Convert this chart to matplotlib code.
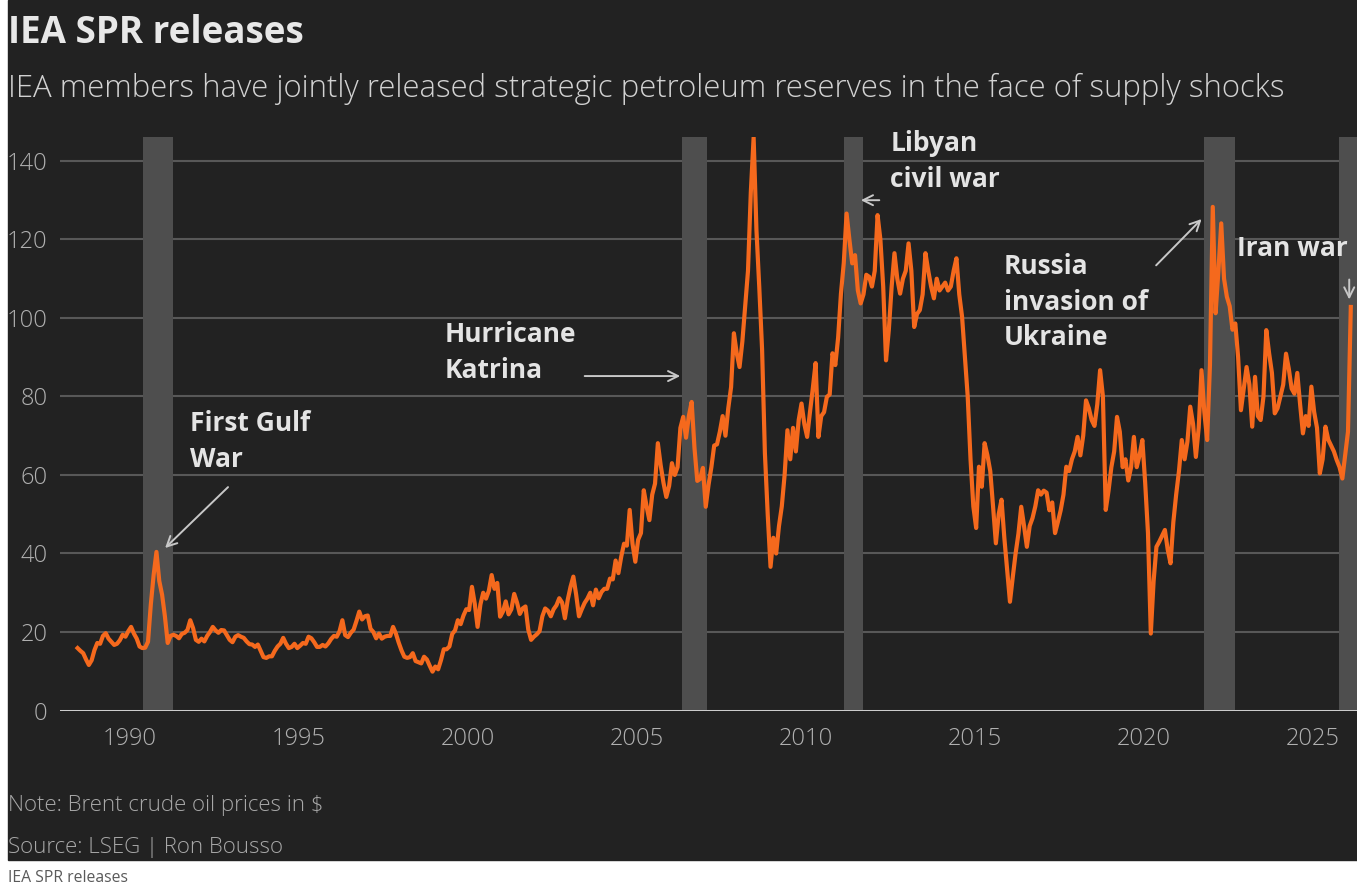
import numpy as np
import matplotlib
matplotlib.use("Agg")
import matplotlib.pyplot as plt
from matplotlib.patches import Rectangle

plt.rcParams['font.family'] = ['Open Sans', 'DejaVu Sans']

# Brent crude in $, read off the chart roughly once a month, starting mid-1988
start_year = 1988.45
brent = [
    15.9, 15.2, 14.6, 13.0, 11.6, 12.8, 15.4,                            # 1988 (Jun-Dec)
    17.2, 17.0, 19.0, 19.7, 18.3, 17.5, 16.7, 17.0, 17.9, 19.3, 18.8, 20.2,  # 1989
    21.3, 19.6, 18.3, 16.3, 15.9, 16.0, 17.5, 27.0, 34.5, 40.4, 33.0, 29.5,  # 1990
    24.0, 17.2, 19.0, 19.3, 19.0, 18.4, 19.5, 19.8, 20.5, 23.0, 21.0, 18.0,  # 1991
    17.5, 18.3, 17.6, 19.0, 20.0, 21.3, 20.4, 19.8, 20.5, 20.4, 19.2, 18.0,  # 1992
    17.4, 18.8, 19.2, 18.8, 18.5, 17.6, 16.9, 16.8, 16.2, 16.8, 15.2, 13.6,  # 1993
    13.4, 13.8, 13.8, 15.2, 16.3, 17.0, 18.5, 17.0, 15.9, 16.2, 17.0, 15.9,  # 1994
    16.5, 17.2, 17.0, 18.8, 18.4, 17.4, 16.2, 16.2, 16.7, 16.3, 17.1, 18.2,  # 1995
    19.0, 18.8, 20.2, 23.0, 19.2, 18.7, 19.8, 20.6, 22.8, 25.2, 23.2, 24.0,  # 1996
    24.2, 20.8, 20.0, 18.4, 19.6, 18.3, 18.8, 19.0, 19.0, 21.3, 19.6, 17.3,  # 1997
    15.3, 13.7, 13.4, 13.6, 14.6, 12.6, 12.3, 12.0, 13.7, 13.0, 11.4, 9.9,   # 1998
    11.2, 10.5, 12.8, 15.6, 15.6, 16.3, 19.5, 20.4, 23.0, 22.0, 24.2, 25.8,  # 1999
    25.6, 31.5, 27.2, 21.3, 27.0, 30.0, 28.5, 30.5, 34.5, 31.0, 32.5, 23.9,  # 2000
    25.2, 27.8, 24.5, 25.8, 29.7, 27.5, 24.6, 26.0, 26.5, 20.6, 18.0, 18.8,  # 2001
    19.4, 20.2, 24.0, 26.0, 25.4, 24.0, 25.8, 26.8, 28.6, 27.5, 23.5, 28.2,  # 2002
    31.5, 34.1, 29.5, 24.0, 25.8, 27.4, 28.5, 30.0, 26.8, 30.8, 28.6, 30.2,  # 2003
    31.0, 31.0, 33.6, 33.4, 38.2, 35.0, 39.2, 42.5, 42.0, 51.1, 42.5, 37.9,  # 2004
    43.5, 45.2, 56.1, 52.0, 48.5, 55.0, 57.8, 68.1, 62.5, 58.0, 54.4, 57.2,  # 2005
    63.0, 60.0, 62.0, 72.0, 74.8, 69.5, 75.0, 78.6, 66.9, 58.5, 59.0, 61.8,  # 2006
    51.9, 57.5, 62.0, 67.5, 67.8, 71.0, 75.0, 70.0, 77.0, 82.4, 96.1, 91.0,  # 2007
    87.5, 94.0, 103.0, 112.0, 132.0, 146.0, 122.4, 107.9, 92.0, 65.6, 50.0, 36.6,  # 2008
    44.0, 40.0, 47.0, 52.0, 60.0, 71.4, 64.0, 72.0, 66.0, 74.0, 78.2, 73.0,  # 2009
    69.7, 76.0, 82.0, 88.5, 69.7, 75.0, 76.0, 79.9, 80.5, 91.0, 88.0, 95.0,  # 2010
    106.2, 114.0, 126.6, 120.0, 113.9, 116.0, 107.0, 103.7, 106.0, 111.0, 110.5, 108.0,  # 2011
    112.0, 126.2, 120.0, 108.0, 89.2, 97.0, 108.0, 116.5, 110.0, 106.2, 110.0, 112.0,  # 2012
    119.0, 112.0, 97.7, 101.0, 102.0, 106.0, 116.5, 112.0, 108.0, 105.0, 110.0, 107.0,  # 2013
    108.0, 109.0, 107.0, 108.0, 112.0, 115.2, 106.0, 100.3, 90.0, 80.0, 64.0, 52.0,  # 2014
    46.5, 62.1, 57.0, 68.1, 65.0, 61.0, 52.0, 42.6, 50.0, 53.7, 44.0, 36.0,  # 2015
    27.7, 34.0, 40.0, 45.0, 51.9, 47.0, 41.7, 47.0, 49.0, 52.0, 56.1, 55.0,  # 2016
    56.0, 55.5, 51.0, 53.0, 45.2, 48.0, 51.0, 55.0, 62.1, 61.0, 64.0, 66.0,  # 2017
    69.7, 65.0, 70.0, 79.0, 77.0, 74.0, 72.5, 78.0, 86.7, 80.0, 51.1, 56.0,  # 2018
    62.0, 66.0, 74.8, 71.0, 62.0, 64.0, 58.6, 62.0, 69.7, 62.0, 65.0, 68.9,  # 2019
    58.0, 45.2, 19.6, 33.0, 41.7, 43.0, 44.5, 46.0, 41.0, 37.5, 48.0, 55.0,  # 2020
    61.0, 68.9, 64.0, 68.5, 77.4, 73.0, 64.6, 72.0, 86.7, 76.0, 68.9, 88.0,  # 2021
    128.3, 101.2, 112.0, 124.1, 110.0, 105.4, 103.0, 97.0, 98.6, 90.0, 76.5, 82.0,  # 2022
    87.5, 83.0, 72.3, 85.0, 75.0, 74.0, 80.0, 96.9, 91.0, 86.0, 75.7, 77.0,  # 2023
    80.0, 83.0, 90.9, 87.0, 82.0, 80.7, 86.0, 78.0, 70.6, 75.0, 72.5, 82.5,  # 2024
    76.0, 72.0, 60.4, 64.0, 72.3, 69.0, 67.5, 66.0, 63.8, 62.0, 59.1, 65.0,  # 2025
    71.0, 102.8,                                                          # 2026
]

# IEA joint releases (shaded periods, as drawn on the chart)
release_start = [1990.38, 2006.33, 2011.12, 2021.78, 2025.77]
release_end = [1991.28, 2007.07, 2011.68, 2022.69, 2026.6]

year_ticks = [1990, 1995, 2000, 2005, 2010, 2015, 2020, 2025]
price_ticks = [0, 20, 40, 60, 80, 100, 120, 140]

years = start_year + np.arange(len(brent)) / 12

W, H = 1357, 886
BG = '#222222'
fig = plt.figure(figsize=(W / 100, H / 100), dpi=100, facecolor='white')
fig.patches.append(Rectangle((8 / W, 26 / H), 1 - 8 / W, 1 - 26 / H,
                             transform=fig.transFigure, color=BG, zorder=0))

ax = fig.add_axes([60 / W, (H - 710.5) / H, (W - 60) / W, (710.5 - 137) / H])
ax.set_zorder(2)
ax.patch.set_alpha(0)

for s, e in zip(release_start, release_end):
    ax.axvspan(s, e, color='#4e4e4e', lw=0, zorder=2)

ax.plot(years, brent, color='#f5691d', lw=3.0, zorder=4, solid_joinstyle='round')
ax.axhline(0, color='#dcdcdc', lw=2, zorder=3)

ax.set_xlim(1987.93, 2026.3)
ax.set_ylim(0, 146.1)
ax.set_xticks(year_ticks)
ax.set_yticks(price_ticks)
ax.yaxis.grid(True, color='#585858', lw=1.5, zorder=1)
ax.set_axisbelow(True)
for sp in ax.spines.values():
    sp.set_visible(False)
ax.tick_params(axis='both', length=0, colors='#b0b0b0', labelsize=17)
ax.tick_params(axis='y', pad=9)
ax.tick_params(axis='x', pad=12)
for lab in ax.get_xticklabels() + ax.get_yticklabels():
    lab.set_fontweight('light')

# annotations
note_kw = dict(color='#e4e4e4', fontsize=19, fontweight='bold', ha='left', va='top',
               linespacing=1.42, zorder=5)
arrow_kw = dict(arrowstyle='->', color='#c8c8c8', lw=1.4, mutation_scale=18)

ax.text(1991.78, 76.5, 'First Gulf\nWar', **note_kw)
ax.annotate('', xy=(1990.98, 40.9), xytext=(1992.96, 57.4), arrowprops=arrow_kw)

ax.text(1999.32, 99.3, 'Hurricane\nKatrina', **note_kw)
ax.annotate('', xy=(2006.36, 85.2), xytext=(2003.37, 85.2), arrowprops=arrow_kw)

ax.text(2012.49, 147.8, 'Libyan\ncivil war', **note_kw)
ax.annotate('', xy=(2011.54, 130.0), xytext=(2012.25, 130.0), arrowprops=arrow_kw)

ax.text(2015.86, 116.6, 'Russia\ninvasion of\nUkraine', **note_kw)
ax.annotate('', xy=(2021.76, 125.7), xytext=(2020.30, 112.9), arrowprops=arrow_kw)

ax.text(2022.74, 121.1, 'Iran war', **note_kw)
ax.annotate('', xy=(2026.07, 104.0), xytext=(2026.07, 110.5), arrowprops=arrow_kw)

# header and footer
def fx(px):
    return px / W


def fy(py):
    return 1 - py / H


fig.text(fx(8), fy(43), 'IEA SPR releases', fontsize=26.5, fontweight='bold',
         color='#e8e8e8', va='baseline')
fig.text(fx(8), fy(97),
         'IEA members have jointly released strategic petroleum reserves in the face of supply shocks',
         fontsize=22.4, fontweight='light', color='#d2d2d2', va='baseline')
fig.text(fx(8), fy(805), 'Note: Brent crude oil prices in $', fontsize=16,
         fontweight='light', color='#a8a8a8', va='center')
fig.text(fx(8), fy(848), 'Source: LSEG | Ron Bousso', fontsize=16,
         fontweight='light', color='#a8a8a8', va='center')
fig.text(fx(8), fy(878), 'IEA SPR releases', fontsize=11.3, color='#5a5a5a', va='center')

fig.savefig('out.png', dpi=100, facecolor='white')
